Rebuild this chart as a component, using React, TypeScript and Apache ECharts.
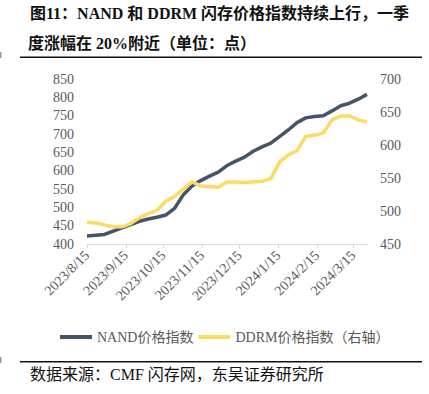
import React, { useEffect, useRef } from "react";
import * as echarts from "echarts";

const dates = [
  "2023/8/15", "2023/8/22", "2023/8/29", "2023/9/5", "2023/9/12", "2023/9/19", "2023/9/26",
  "2023/10/3", "2023/10/10", "2023/10/17", "2023/10/24", "2023/10/31", "2023/11/7", "2023/11/14",
  "2023/11/21", "2023/11/28", "2023/12/5", "2023/12/12", "2023/12/19", "2023/12/26", "2024/1/2",
  "2024/1/9", "2024/1/16", "2024/1/23", "2024/1/30", "2024/2/6", "2024/2/13", "2024/2/20",
  "2024/2/27", "2024/3/5", "2024/3/12", "2024/3/19", "2024/3/26",
];

const nandValues = [
  422, 424, 426, 435, 444, 453, 462, 468, 473, 479, 497, 534, 558, 573, 585, 596, 614,
  626, 637, 653, 665, 675, 693, 711, 731, 744, 748, 750, 763, 777, 784, 795, 808,
];

const ddrmValues = [
  483, 482, 479, 476, 476, 481, 490, 496, 501, 515, 522, 533, 544, 538, 537, 536, 544,
  544, 543, 544, 545, 549, 574, 585, 591, 613, 615, 618, 638, 644, 644, 638, 635,
];

const xTickLabels = [
  "2023/8/15", "2023/9/15", "2023/10/15", "2023/11/15", "2023/12/15", "2024/1/15", "2024/2/15", "2024/3/15",
];

const seriesNames = ["NAND价格指数", "DDRM价格指数（右轴）"];
const titleLines = ["图11：NAND 和 DDRM 闪存价格指数持续上行，一季", "度涨幅在 20%附近（单位：点）"];
const sourceText = "数据来源：CMF 闪存网，东吴证券研究所";

const DAY = 86400000;
const toUtc = (s: string) => {
  const [y, m, d] = s.split("/").map(Number);
  return Date.UTC(y, m - 1, d);
};
const base = toUtc(dates[0]);
const toDay = (s: string) => Math.round((toUtc(s) - base) / DAY);
const fmtDay = (v: number) => {
  const d = new Date(base + Math.round(v) * DAY);
  return `${d.getUTCFullYear()}/${d.getUTCMonth() + 1}/${d.getUTCDate()}`;
};

const FONT = "'Times New Roman', 'Liberation Serif', 'Noto Sans CJK SC', serif";

export default function App() {
  const ref = useRef<HTMLDivElement>(null);
  useEffect(() => {
    if (!ref.current) return;
    const chart = echarts.init(ref.current, null, { renderer: "svg" });
    const nandData = dates.map((d, i) => [toDay(d), nandValues[i]]);
    const ddrmData = dates.map((d, i) => [toDay(d), ddrmValues[i]]);
    const tickDays = xTickLabels.map(toDay);
    const labelStyle = { color: "#595959", fontSize: 14, fontFamily: FONT };
    chart.setOption({
      animation: false,
      backgroundColor: "#ffffff",
      grid: { left: 87, right: 62, top: 79, bottom: 150, containLabel: false },
      legend: {
        left: 55,
        top: 325,
        icon: "rect",
        itemWidth: 32,
        itemHeight: 4,
        itemGap: 5,
        textStyle: { ...labelStyle },
        data: seriesNames,
      },
      xAxis: {
        type: "value",
        min: 0,
        max: toDay(dates[dates.length - 1]),
        axisLine: { show: true, lineStyle: { color: "#d9d9d9", width: 1 } },
        axisTick: { show: true, customValues: tickDays, length: 4, lineStyle: { color: "#d9d9d9" } },
        axisLabel: {
          ...labelStyle,
          customValues: tickDays,
          rotate: 45,
          margin: 9,
          formatter: (v: number) => fmtDay(v),
        },
        splitLine: { show: false },
      },
      yAxis: [
        {
          type: "value",
          min: 400,
          max: 850,
          interval: 50,
          axisLine: { show: false },
          axisTick: { show: false },
          splitLine: { show: false },
          axisLabel: { ...labelStyle, margin: 13 },
        },
        {
          type: "value",
          min: 450,
          max: 700,
          interval: 50,
          position: "right",
          axisLine: { show: false },
          axisTick: { show: false },
          splitLine: { show: false },
          axisLabel: { ...labelStyle, margin: 13 },
        },
      ],
      series: [
        {
          name: seriesNames[0],
          type: "line",
          yAxisIndex: 0,
          data: nandData,
          showSymbol: false,
          symbol: "none",
          lineStyle: { color: "#44546a", width: 3.5 },
          itemStyle: { color: "#44546a" },
        },
        {
          name: seriesNames[1],
          type: "line",
          yAxisIndex: 1,
          data: ddrmData,
          showSymbol: false,
          symbol: "none",
          lineStyle: { color: "#ffd966", width: 3.5 },
          itemStyle: { color: "#ffd966" },
        },
      ],
      graphic: [
        {
          type: "text",
          left: 30,
          top: 5,
          style: { text: titleLines[0], font: `bold 16px ${FONT}`, fill: "#111" },
        },
        {
          type: "text",
          left: 28,
          top: 35,
          style: { text: titleLines[1], font: `bold 16px ${FONT}`, fill: "#111" },
        },
        {
          type: "rect",
          shape: { x: 20, y: 56.5, width: 402, height: 1.5 },
          style: { fill: "#111" },
        },
        {
          type: "rect",
          shape: { x: 0, y: 52, width: 1.5, height: 6 },
          style: { fill: "#999" },
        },
        {
          type: "rect",
          shape: { x: 20, y: 361, width: 402, height: 1.5 },
          style: { fill: "#111" },
        },
        {
          type: "rect",
          shape: { x: 0, y: 357, width: 1.5, height: 6 },
          style: { fill: "#999" },
        },
        {
          type: "text",
          left: 30,
          top: 366,
          style: { text: sourceText, font: `16px ${FONT}`, fill: "#111" },
        },
      ],
    });
    return () => chart.dispose();
  }, []);
  return (
    <div
      ref={ref}
      style={{ position: "fixed", left: 0, top: 0, width: 429, height: 394, background: "#fff" }}
    />
  );
}
